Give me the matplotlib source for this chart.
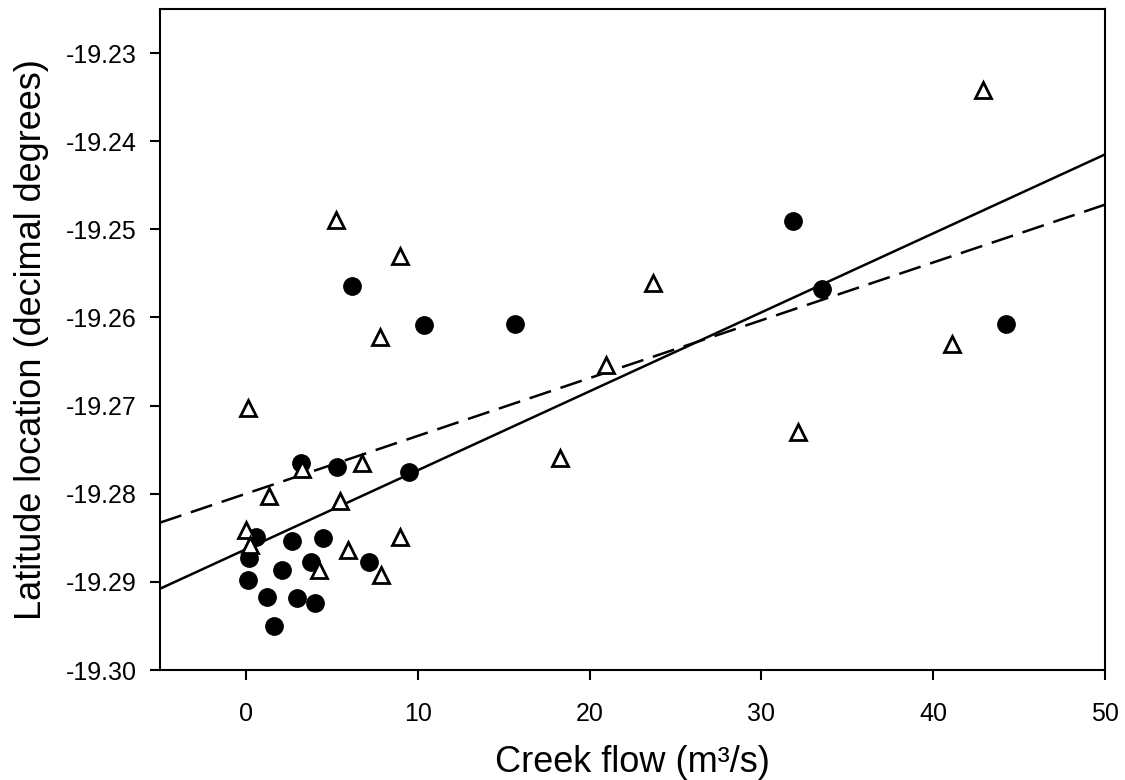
import matplotlib
matplotlib.use("Agg")
import numpy as np
import matplotlib.pyplot as plt

plt.rcParams['font.family'] = ['Liberation Sans', 'DejaVu Sans']

# filled circles
flow_a = [3.22, 5.31, 9.48, 0.56, 2.69, 4.46, 0.17, 3.80, 7.14, 2.09, 0.15, 1.22,
          2.95, 4.03, 1.61, 6.17, 10.34, 15.67, 31.82, 33.55, 44.25]
lat_a = [-19.2765, -19.2770, -19.2775, -19.2849, -19.2854, -19.2850, -19.2873,
         -19.2877, -19.2878, -19.2887, -19.2898, -19.2917, -19.2918, -19.2924,
         -19.2950, -19.2564, -19.2609, -19.2607, -19.2491, -19.2568, -19.2607]

# open triangles
flow_b = [3.26, 6.77, 1.37, 5.49, -0.02, 8.94, 0.21, 5.97, 4.24, 7.87, 5.25, 8.94,
          7.82, 23.70, 20.97, 0.14, 18.28, 32.15, 41.07, 42.90]
lat_b = [-19.2772, -19.2765, -19.2803, -19.2808, -19.2841, -19.2849, -19.2858,
         -19.2864, -19.2887, -19.2892, -19.2489, -19.2530, -19.2622, -19.2561,
         -19.2654, -19.2703, -19.2759, -19.2730, -19.2630, -19.2342]

# regression lines (intercept, slope)
fit_a = (-19.2863, 0.000896)
fit_b = (-19.2800, 0.000656)

fig = plt.figure(figsize=(11.25, 7.8), dpi=100)
ax = fig.add_axes([160/1125, 1-670/780, 945/1125, 661/780])

xs = np.array([-5, 50])
ax.plot(xs, fit_a[0] + fit_a[1]*xs, color='black', lw=1.8, zorder=2)
ax.plot(xs, fit_b[0] + fit_b[1]*xs, color='black', lw=1.8, linestyle=(0, (9, 4)), zorder=2)

ax.plot(flow_a, lat_a, 'o', color='black', markersize=12.5, zorder=3)
ax.plot(flow_b, lat_b, '^', markerfacecolor='white', markeredgecolor='black',
        markersize=12, markeredgewidth=2, zorder=4)

ax.set_xlim(-5, 50)
ax.set_ylim(-19.30, -19.225)
ax.set_xticks([0, 10, 20, 30, 40, 50])
ax.set_yticks([-19.30, -19.29, -19.28, -19.27, -19.26, -19.25, -19.24, -19.23])
ax.set_yticklabels(['-19.30', '-19.29', '-19.28', '-19.27', '-19.26', '-19.25', '-19.24', '-19.23'])

for s in ax.spines.values():
    s.set_linewidth(1.5)
ax.tick_params(axis='both', direction='out', length=7, width=1.5, labelsize=18)
ax.tick_params(axis='x', pad=16)
ax.tick_params(axis='y', pad=10)

ax.set_xlabel('Creek flow (m³/s)', fontsize=26, labelpad=14)
ax.set_ylabel('Latitude location (decimal degrees)', fontsize=26, labelpad=12)

fig.savefig('out.png', dpi=100)
